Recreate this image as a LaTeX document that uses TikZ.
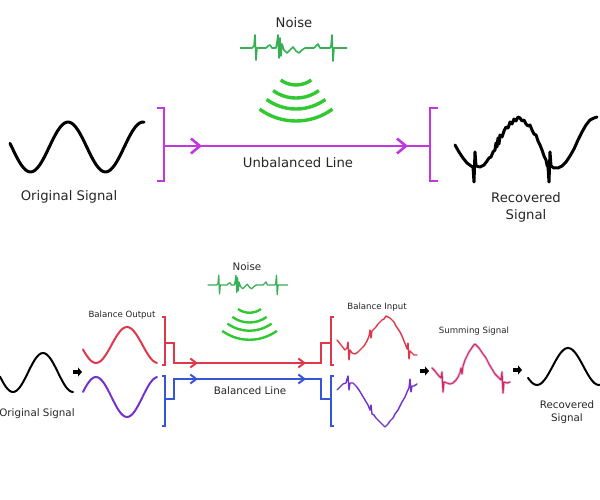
\documentclass[tikz,border=0pt]{standalone}
\usepackage{fontspec}
\setmainfont{DejaVu Sans}
\usetikzlibrary{arrows.meta,decorations.markings}

\definecolor{linepurple}{RGB}{195,55,225}
\definecolor{noisegreen}{RGB}{55,175,85}
\definecolor{wavegreen}{RGB}{50,200,50}
\definecolor{balred}{RGB}{225,55,75}
\definecolor{balblue}{RGB}{55,85,215}
\definecolor{balviolet}{RGB}{115,50,205}
\definecolor{sumred}{RGB}{210,45,85}
\definecolor{sumhalo}{RGB}{230,185,240}

\begin{document}
\begin{tikzpicture}[
    x=1pt, y=-1pt,
    every node/.style={inner sep=1pt, text=black!85},
    toptext/.style={font=\fontsize{13.2}{17}\selectfont, align=center},
    bottext/.style={font=\fontsize{10.3}{12.5}\selectfont, align=center},
    smalltext/.style={font=\fontsize{8.6}{10}\selectfont},
    sine/.style={line width=3pt, line cap=round, line join=round},
    bsine/.style={line width=2pt, line cap=round, line join=round},
    jag/.style={line width=1.4pt, line cap=round, line join=round},
    pline/.style={draw=linepurple, line width=2.6pt},
    rline/.style={draw=balred, line width=2pt},
    bline/.style={draw=balblue, line width=2pt},
    blob/.style={line width=4pt, -{Triangle[length=4pt,width=9pt]}},
    topchev/.style={postaction={decorate, decoration={markings,
        mark=at position 38pt with {\arrow{Straight Barb[length=9pt,width=15pt]}},
        mark=at position -22pt with {\arrow{Straight Barb[length=9pt,width=15pt]}}}}},
    botchev/.style={postaction={decorate, decoration={markings,
        mark=at position 24pt with {\arrow{Straight Barb[length=6pt,width=9pt]}},
        mark=at position -15pt with {\arrow{Straight Barb[length=6pt,width=9pt]}}}}},
    noisetrace/.style={draw=noisegreen, line width=1.6pt, line join=round},
    noisearc/.style={draw=wavegreen, line width=3.4pt},
    noise/.pic={
        \draw[noisetrace] (-54,0) -- (-42,0) -- (-40,-2) -- (-39,-13) -- (-38,12) -- (-37,0)
            -- (-28,0) -- (-26,-2) -- (-24,-3) -- (-22,0) -- (-18,0) -- (-17,-6) -- (-16,-13)
            -- (-15,10) -- (-14,-10) -- (-13,8) -- (-12,-4) -- (-10,2) -- (-7,5) -- (-4,2)
            -- (-1,-1) -- (2,3) -- (5,5) -- (8,2) -- (11,0) -- (20,0) -- (22,-2) -- (24,-4)
            -- (26,0) -- (36,0) -- (37,-2) -- (38,-13) -- (39,13) -- (40,0) -- (53,0);
        \foreach \r in {26,39,50,62}
            \draw[noisearc] (2,11) ++(54:\r) arc[start angle=54, end angle=126, radius=\r];
    }
]
\useasboundingbox (0,0) rectangle (600,500);
\fill[white] (0,0) rectangle (600,500);

\node[toptext] (noiseA) at (294,23) {Noise};
\pic (srcA) at (294,48) {noise};
\draw[sine] plot[domain=10:144, samples=60, smooth] (\x,{147-25*cos(4.8*(\x-68))});
\node[toptext] (origA) at (69,197) {Original Signal};
\coordinate (ua) at (164,146);
\coordinate (ub) at (430,146);
\draw[pline] ([shift={(-7,-38)}]ua) -| (ua) |- ++(-7,35);
\draw[pline] ([shift={(8,-38)}]ub) -| (ub) |- ++(8,35);
\draw[pline, topchev] (ua) -- (ub);
\node[toptext] (unbal) at (298,163) {Unbalanced Line};
\draw[sine] plot coordinates {(455,145) (459,152) (463,158) (467,163) (471,166) (473,167)
    (474,182) (475,152) (476,166) (480,167) (484,165) (487,161) (489,158) (491,157) (493,152)
    (495,150) (496,143) (497,147) (498,138) (499,144) (500,135) (502,137) (504,131) (506,127)
    (508,128) (510,122) (512,124) (514,119) (516,121) (518,117) (520,118) (522,121) (524,120)
    (526,124) (528,126) (530,125) (532,130) (534,134) (536,135) (538,141) (540,145) (542,150)
    (544,156) (546,160) (547,165) (548,167) (549,182) (550,152) (551,166) (554,168) (558,168)
    (562,166) (566,162) (570,156) (574,149) (578,140) (582,132) (586,125) (590,120) (594,118) (597,117)};
\node[toptext] (recA) at (526,207) {Recovered\\Signal};

\node[bottext] (noiseB) at (247,267) {Noise};
\pic[scale=.75, noisetrace/.append style={line width=1.3pt}, noisearc/.append style={line width=2.4pt}]
    (srcB) at (248,285) {noise};
\draw[bsine] plot[domain=0:73, samples=40, smooth] (\x,{372.5-19.5*cos(6*(\x-43))});
\node[bottext] (origB) at (37,414) {Original Signal};
\coordinate (arrA) at (73,372);
\draw[blob] (arrA) -- ++(9,0);
\node[smalltext] (bout) at (122,315) {Balance Output};
\draw[bsine, balred] plot[domain=83:157, samples=40, smooth] (\x,{345-18*cos(5.806*(\x-127))});
\draw[bsine, balviolet] plot[domain=83:157, samples=40, smooth] (\x,{397+20*cos(5.806*(\x-127))});

\coordinate (ra) at (165,343);
\coordinate (ra1) at (174,363);
\coordinate (rb1) at (321,363);
\coordinate (rb) at (331,343);
\draw[rline] ([shift={(-3,-26)}]ra) -| (ra) |- ++(-3,22);
\draw[rline] ([shift={(3,-26)}]rb) -| (rb) |- ++(3,22);
\draw[rline] (ra) -| (ra1) -- (rb1) |- (rb);
\draw[rline, botchev] (ra1) -- (rb1);

\coordinate (ba) at (165,399);
\coordinate (ba1) at (174,379);
\coordinate (bb1) at (321,379);
\coordinate (bb) at (331,399);
\draw[bline] ([shift={(-3,-23)}]ba) -| (ba) |- ++(-3,27);
\draw[bline] ([shift={(3,-23)}]bb) -| (bb) |- ++(3,27);
\draw[bline] (ba) -| (ba1) -- (bb1) |- (bb);
\draw[bline, botchev] (ba1) -- (bb1);
\node[bottext] (bal) at (250,391) {Balanced Line};

\node[smalltext] (bin) at (377,307) {Balance Input};
\draw[jag, balred] plot coordinates {(337,340) (341,345) (345,350) (347,348) (348,342) (349,360)
    (350,350) (352,353) (355,354) (358,352) (361,349) (364,346) (367,341) (369,336) (370,330)
    (371,338) (372,331) (374,329) (376,327) (378,324) (380,322) (382,320) (384,319) (386,316)
    (388,317) (390,318) (392,320) (394,322) (396,326) (398,329) (400,332) (402,336) (404,341)
    (406,346) (407,349) (408,343) (409,359) (410,351) (412,353) (414,355) (417,355)};
\draw[jag, balviolet] plot coordinates {(337,390) (340,387) (343,384) (346,383) (347,379) (348,376)
    (349,390) (350,383) (353,383) (356,386) (359,390) (362,395) (365,400) (368,405) (370,410)
    (371,405) (372,414) (374,415) (376,418) (379,421) (382,424) (385,427) (388,424) (390,421)
    (393,418) (395,414) (398,410) (400,406) (402,402) (405,397) (407,392) (409,388) (410,379)
    (411,392) (412,386) (414,386) (417,384)};
\coordinate (arrB) at (420,371);
\draw[blob] (arrB) -- ++(9,0);

\node[smalltext] (sum) at (474,331) {Summing Signal};
\draw[jag, sumhalo, line width=2.6pt] plot coordinates {(432,368) (435,371) (438,375) (441,378)
    (442,372) (443,392) (444,382) (447,383) (450,384) (453,383) (456,380) (458,377) (460,373)
    (461,368) (462,374) (463,366) (465,360) (467,356) (469,352) (471,349) (473,346) (475,344)
    (477,346) (479,348) (481,351) (483,354) (486,358) (489,364) (492,369) (495,374) (498,377)
    (501,380) (502,372) (503,393) (504,382) (507,383) (510,382)};
\draw[jag, sumred, line width=1.1pt] plot coordinates {(432,368) (435,371) (438,375) (441,378)
    (442,372) (443,392) (444,382) (447,383) (450,384) (453,383) (456,380) (458,377) (460,373)
    (461,368) (462,374) (463,366) (465,360) (467,356) (469,352) (471,349) (473,346) (475,344)
    (477,346) (479,348) (481,351) (483,354) (486,358) (489,364) (492,369) (495,374) (498,377)
    (501,380) (502,372) (503,393) (504,382) (507,383) (510,382)};
\coordinate (arrC) at (513,370);
\draw[blob] (arrC) -- ++(9,0);

\draw[bsine] plot[domain=528:600, samples=40, smooth] (\x,{366.5-18.5*cos(5.806*(\x-568))});
\node[bottext] (recB) at (567,412) {Recovered\\Signal};
\end{tikzpicture}
\end{document}
